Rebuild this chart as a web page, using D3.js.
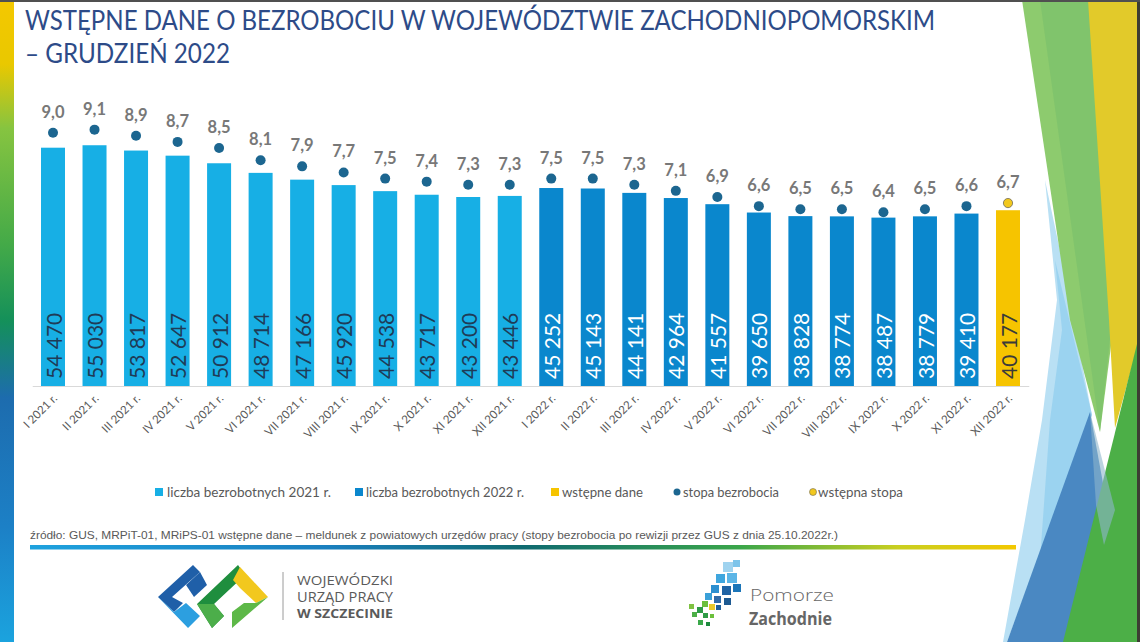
<!DOCTYPE html>
<html><head><meta charset="utf-8">
<script src="https://cdn.jsdelivr.net/npm/d3@7"></script>
<style>
html,body{margin:0;padding:0;background:#fff;}
svg{display:block;}
</style></head>
<body>
<svg id="c" width="1140" height="642"></svg>
<script>
// ---- data ----
const categories = ["I 2021 r.","II 2021 r.","III 2021 r.","IV 2021 r.","V 2021 r.","VI 2021 r.","VII 2021 r.","VIII 2021 r.","IX 2021 r.","X 2021 r.","XI 2021 r.","XII 2021 r.",
  "I 2022 r.","II 2022 r.","III 2022 r.","IV 2022 r.","V 2022 r.","VI 2022 r.","VII 2022 r.","VIII 2022 r.","IX 2022 r.","X 2022 r.","XI 2022 r.","XII 2022 r."];
const unemployed = [54470,55030,53817,52647,50912,48714,47166,45920,44538,43717,43200,43446,
  45252,45143,44141,42964,41557,39650,38828,38774,38487,38779,39410,40177];
const rates = [9.0,9.1,8.9,8.7,8.5,8.1,7.9,7.7,7.5,7.4,7.3,7.3,
  7.5,7.5,7.3,7.1,6.9,6.6,6.5,6.5,6.4,6.5,6.6,6.7];
const seriesGroup = ["2021","2021","2021","2021","2021","2021","2021","2021","2021","2021","2021","2021",
  "2022","2022","2022","2022","2022","2022","2022","2022","2022","2022","2022","prelim"];
const legendLabels = ["liczba bezrobotnych 2021 r.","liczba bezrobotnych 2022 r.","wstępne dane","stopa bezrobocia","wstępna stopa"];

const barColor = {"2021":"#17afe5","2022":"#0a87cd","prelim":"#f6c400"};
const barTextColor = {"2021":"#1f3b57","2022":"#ffffff","prelim":"#3a3a3a"};

const svg = d3.select("#c");
const FONT = "Lato, 'Open Sans', sans-serif";

// ---- background decorations ----
const defs = svg.append("defs");
const lg = defs.append("linearGradient").attr("id","leftbar").attr("x1",0).attr("y1",0).attr("x2",0).attr("y2",1);
[[0,"#f4c800"],[0.1,"#e9c800"],[0.2,"#86c440"],[0.38,"#44aa48"],[0.5,"#14905a"],[0.62,"#1d6cae"],[0.82,"#1c80c6"],[1,"#1ba3de"]]
  .forEach(([o,c])=>lg.append("stop").attr("offset",o).attr("stop-color",c));
svg.append("rect").attr("x",0).attr("y",0).attr("width",14).attr("height",642).attr("fill","url(#leftbar)");

const rg = defs.append("linearGradient").attr("id","rule").attr("x1",0).attr("y1",0).attr("x2",1).attr("y2",0);
[[0,"#1ea2de"],[0.3,"#1a7fbf"],[0.5,"#0f6a70"],[0.72,"#3aa64a"],[0.88,"#c9cf20"],[1,"#f3c800"]]
  .forEach(([o,c])=>rg.append("stop").attr("offset",o).attr("stop-color",c));

// right decorative triangles
const deco = [
  {pts:[[1045,180],[1062,260],[1092,415],[1007,642],[1003,642],[1025,520],[1042,420],[1057,300]], fill:"#b9e0f4", op:1},
  {pts:[[1055,260],[1092,415],[1040,560],[1050,420],[1062,330]], fill:"#8fcdee", op:0.7},
  {pts:[[1022,0],[1092,0],[1113,330],[1100,432],[1070,320]], fill:"#8dcb6e", op:1},
  {pts:[[1040,0],[1090,0],[1112,320],[1100,432]], fill:"#78c06a", op:0.6},
  {pts:[[1088,0],[1138,0],[1138,345],[1115,428],[1109,320]], fill:"#e2ca2a", op:1},
  {pts:[[1090,412],[1132,642],[1007,642]], fill:"#4a88c2", op:1},
  {pts:[[1138,340],[1138,642],[1063,642]], fill:"#4caf47", op:1},
  {pts:[[1090,412],[1115,510],[1104,545],[1096,505]], fill:"#8db5cb", op:0.6}
];
svg.selectAll("polygon.deco").data(deco).join("polygon").attr("class","deco")
  .attr("points",d=>d.pts.map(p=>p.join(",")).join(" "))
  .attr("fill",d=>d.fill).attr("opacity",d=>d.op);
svg.append("rect").attr("x",1137).attr("y",0).attr("width",3).attr("height",642).attr("fill","#3d3d33");
svg.append("rect").attr("x",0).attr("y",0).attr("width",1140).attr("height",2).attr("fill","#505050");

// ---- title ----
const title = svg.append("g").attr("fill","#2d4b88").style("font-family",FONT).style("font-size","26px");
title.append("text").attr("x",25).attr("y",30).attr("textLength",910).attr("lengthAdjust","spacingAndGlyphs")
  .text("WSTĘPNE DANE O BEZROBOCIU W WOJEWÓDZTWIE ZACHODNIOPOMORSKIM");
title.append("text").attr("x",25).attr("y",63).attr("textLength",205).attr("lengthAdjust","spacingAndGlyphs")
  .text("– GRUDZIEŃ 2022");

// ---- scales ----
const x = d3.scaleBand().domain(categories).range([32.24,1028.76]).paddingInner(0.422).paddingOuter(0.211);
const y = d3.scaleLinear().domain([0,60000]).range([386,123.5]);
const y2 = d3.scaleLinear().domain([0,10]).range([408.1,102.1]);
const loc = d3.formatLocale({decimal:",",thousands:"\u00a0",grouping:[3],currency:["","zł"]});
const fmtN = loc.format(",d");
const fmtR = loc.format(".1f");

const rows = categories.map((c,i)=>({c, v:unemployed[i], r:rates[i], g:seriesGroup[i]}));

// axis baseline
const xAxis = svg.append("g").attr("transform","translate(0,386)")
  .call(d3.axisBottom(x).tickSize(0).tickSizeOuter(0).tickFormat(""));
xAxis.select(".domain").attr("stroke","#d9d9d9").attr("stroke-width",1.2);
xAxis.selectAll(".tick text").remove();

// bars
svg.append("g").selectAll("rect").data(rows).join("rect")
  .attr("x",d=>x(d.c)).attr("width",x.bandwidth())
  .attr("y",d=>y(d.v)).attr("height",d=>y(0)-y(d.v))
  .attr("fill",d=>barColor[d.g]);

// bar value labels (rotated)
svg.append("g").selectAll("text").data(rows).join("text")
  .attr("transform",d=>`translate(${x(d.c)+x.bandwidth()/2+1},${y(0)-7}) rotate(-90)`)
  .attr("dy","0.36em")
  .attr("text-anchor","start")
  .style("font-family",FONT).style("font-size","21px")
  .attr("fill",d=>barTextColor[d.g])
  .text(d=>fmtN(d.v));

// x labels rotated
svg.append("g").selectAll("text").data(rows).join("text")
  .attr("transform",d=>`translate(${x(d.c)+x.bandwidth()/2+5},${399}) rotate(-45)`)
  .attr("text-anchor","end")
  .style("font-family",FONT).style("font-size","11.5px")
  .attr("fill","#595959")
  .text(d=>d.c);

// rate dots
svg.append("g").selectAll("circle").data(rows).join("circle")
  .attr("cx",d=>x(d.c)+x.bandwidth()/2).attr("cy",d=>y2(d.r))
  .attr("r",d=>d.g==="prelim"?4.6:5)
  .attr("fill",d=>d.g==="prelim"?"#f2c81e":"#1c6690")
  .attr("stroke",d=>d.g==="prelim"?"#6f6a55":"none").attr("stroke-width",0.8);

// rate labels
svg.append("g").selectAll("text").data(rows).join("text")
  .attr("x",d=>x(d.c)+x.bandwidth()/2).attr("y",d=>y2(d.r)-15)
  .attr("text-anchor","middle")
  .style("font-family",FONT).style("font-size","16.5px").style("font-weight","700")
  .attr("fill","#787878")
  .text(d=>fmtR(d.r));

// ---- legend ----
const legendItems = [
  {t:legendLabels[0], type:"rect", fill:barColor["2021"], x:155, tx:167, w:164},
  {t:legendLabels[1], type:"rect", fill:barColor["2022"], x:355, tx:366, w:158},
  {t:legendLabels[2], type:"rect", fill:barColor["prelim"], x:551, tx:562, w:81},
  {t:legendLabels[3], type:"circle", fill:"#1c6690", x:674, tx:683, w:96},
  {t:legendLabels[4], type:"circle", fill:"#f2c81e", x:810, tx:818, w:85}
];
const leg = svg.append("g");
legendItems.forEach(it=>{
  if(it.type==="rect"){
    leg.append("rect").attr("x",it.x).attr("y",488).attr("width",8).attr("height",8).attr("fill",it.fill);
  } else {
    leg.append("circle").attr("cx",it.x+3).attr("cy",492).attr("r",3.5).attr("fill",it.fill)
      .attr("stroke",it.fill==="#f2c81e"?"#6f6a55":"none").attr("stroke-width",0.6);
  }
  leg.append("text").attr("x",it.tx).attr("y",497).attr("textLength",it.w).attr("lengthAdjust","spacingAndGlyphs")
    .style("font-family",FONT).style("font-size","13.5px").attr("fill","#595959").text(it.t);
});

// ---- source ----
svg.append("text").attr("x",30).attr("y",539).attr("textLength",808).attr("lengthAdjust","spacingAndGlyphs")
  .style("font-family","'Liberation Sans Narrow','Liberation Sans',Arial,sans-serif").style("font-size","11.5px")
  .attr("fill","#595959")
  .text("źródło: GUS, MRPiT-01, MRiPS-01 wstępne dane – meldunek z powiatowych urzędów pracy (stopy bezrobocia po rewizji przez GUS z dnia 25.10.2022r.)");
svg.append("rect").attr("x",30).attr("y",545).attr("width",986).attr("height",4.5).attr("fill","url(#rule)");

// ---- WUP logo ----
const wup = svg.append("g");
wup.append("polygon").attr("points","193,565 158,597 174,612 183,603 172,597 200,572").attr("fill","#1f5fa8");
wup.append("polygon").attr("points","158,597 188,628 200,616 186,603 174,612").attr("fill","#2c9fe0");
wup.append("polygon").attr("points","200,572 186,585 194,597 207,585").attr("fill","#1f5fa8");
wup.append("polygon").attr("points","238,565 197,604 212,628 224,616 214,604 245,575").attr("fill","#1f8e3e");
wup.append("polygon").attr("points","197,604 212,628 224,616 214,604").attr("fill","#4cae4a");
wup.append("polygon").attr("points","240,567 268,597 256,603 240,588 233,580").attr("fill","#f2c81e");
wup.append("polygon").attr("points","268,597 232,628 232,612 244,603 256,603").attr("fill","#5db848");
wup.append("line").attr("x1",283).attr("x2",283).attr("y1",572).attr("y2",620).attr("stroke","#9a9a9a").attr("stroke-width",1);
const wt = wup.append("g").style("font-family","'Open Sans',sans-serif").attr("fill","#5a5a5a");
wt.append("text").attr("x",297).attr("y",585).attr("textLength",96).attr("lengthAdjust","spacingAndGlyphs").style("font-size","12.5px").text("WOJEWÓDZKI");
wt.append("text").attr("x",297).attr("y",602).attr("textLength",96).attr("lengthAdjust","spacingAndGlyphs").style("font-size","14px").text("URZĄD PRACY");
wt.append("text").attr("x",297).attr("y",618).attr("textLength",96).attr("lengthAdjust","spacingAndGlyphs").style("font-size","12.5px").style("font-weight","700").text("W  SZCZECINIE");

// ---- Pomorze Zachodnie logo ----
const pz = svg.append("g");
const sq = [
  [723,562,10,"#9fd3ef"],[733,560,7,"#7cc4ea"],[716,574,9,"#3fa6de"],[727,573,10,"#5bb5e6"],[733,584,8,"#1b75b8"],
  [711,585,8,"#2c8fd0"],[722,586,9,"#1f63a4"],[705,593,7,"#3aa0d8"],[714,596,7,"#2f6aa8"],[724,598,7,"#1d5a92"],
  [702,601,6,"#6cbf3c"],[709,604,6,"#e8c82a"],[697,607,6,"#2e9b47"],[716,605,5,"#1e5f9a"],[692,612,5,"#4caf47"],
  [703,613,5,"#2e9b47"],[689,604,5,"#7fc242"],[698,620,5,"#3aa84a"],[706,622,4,"#1e8a3f"],[710,614,4,"#6cbf3c"]
];
pz.selectAll("rect").data(sq).join("rect").attr("x",d=>d[0]).attr("y",d=>d[1]).attr("width",d=>d[2]).attr("height",d=>d[2]).attr("fill",d=>d[3]);
pz.append("text").attr("x",750).attr("y",601).attr("textLength",84).attr("lengthAdjust","spacingAndGlyphs")
  .style("font-family","'Open Sans',sans-serif").style("font-size","16.5px").style("font-weight","300").attr("fill","#666").text("Pomorze");
pz.append("text").attr("x",749).attr("y",625).attr("textLength",83).attr("lengthAdjust","spacingAndGlyphs")
  .style("font-family","'Open Sans',sans-serif").style("font-size","17px").style("font-weight","700").attr("fill","#666").text("Zachodnie");
</script>
</body></html>
